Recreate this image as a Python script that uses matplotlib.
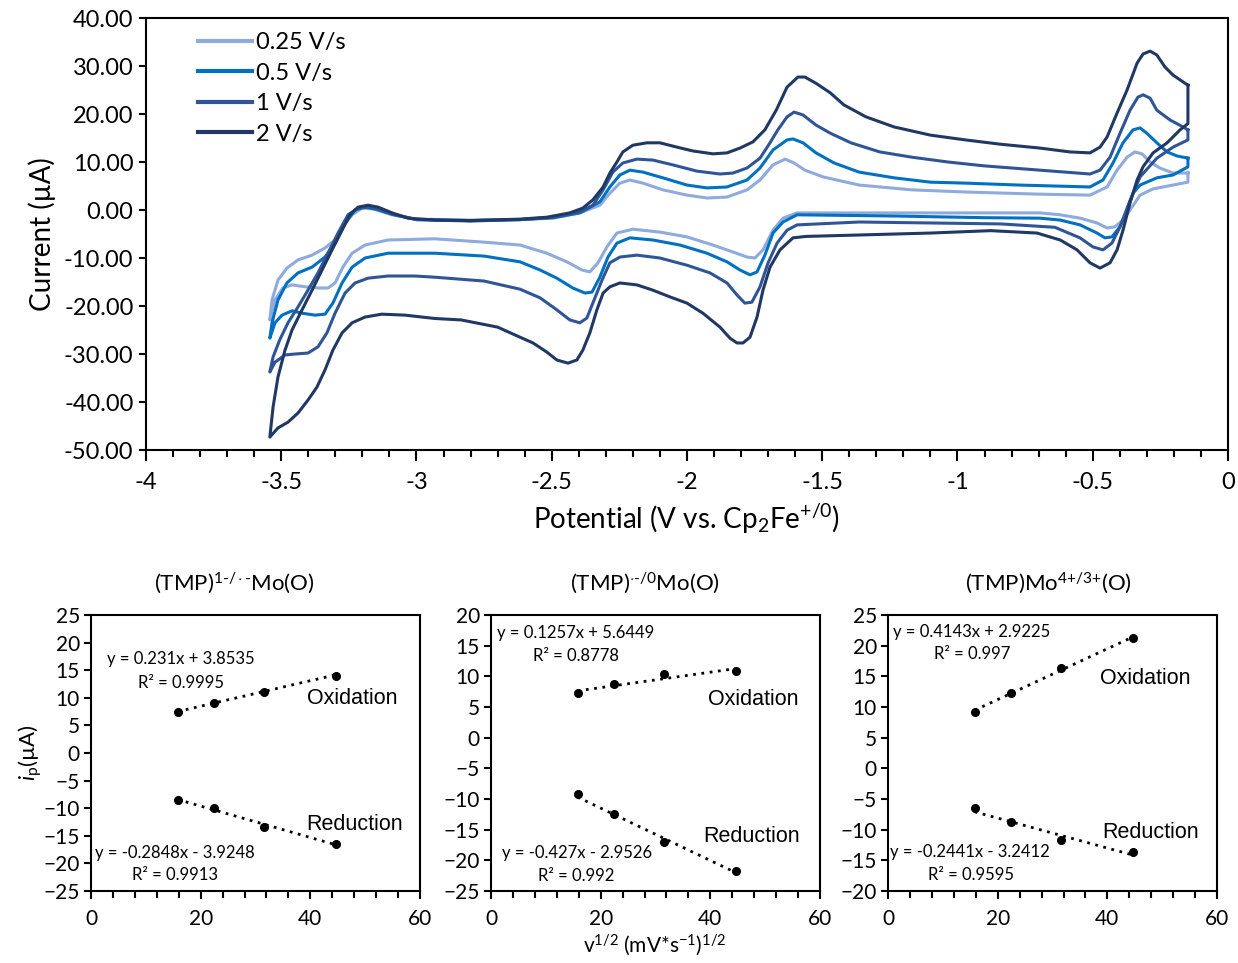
import matplotlib
matplotlib.use('Agg')

import matplotlib.pyplot as plt
from matplotlib.ticker import MultipleLocator, FormatStrFormatter

plt.rcParams['font.family'] = ['Lato', 'DejaVu Sans']
plt.rcParams['mathtext.fontset'] = 'custom'
plt.rcParams['mathtext.rm'] = 'Lato'
plt.rcParams['mathtext.it'] = 'Lato:italic'
plt.rcParams['mathtext.bf'] = 'Lato:bold'

# cyclic voltammograms: potential (V vs Fc) and current (uA), one closed loop per scan rate
# (cathodic sweep right -> left, then anodic sweep back)
cv_025_e = [-0.148, -0.148, -0.203, -0.277, -0.325, -0.355, -0.388, -0.418, -0.447, -0.484, -0.547, -0.62,
            -0.695, -0.9, -1.234, -1.593, -1.645, -1.682, -1.719, -1.749, -1.778, -1.83, -1.904, -2.0,
            -2.1, -2.2, -2.259, -2.296, -2.329, -2.359, -2.388, -2.444, -2.518, -2.617, -2.75, -2.932,
            -3.105, -3.19, -3.238, -3.272, -3.301, -3.327, -3.364, -3.412, -3.46, -3.494, -3.523, -3.542,
            -3.534, -3.512, -3.479, -3.438, -3.386, -3.338, -3.301, -3.272, -3.238, -3.201, -3.16, -3.09,
            -3.0, -2.8, -2.617, -2.495, -2.396, -2.322, -2.285, -2.248, -2.211, -2.163, -2.089, -2.0,
            -1.926, -1.852, -1.778, -1.73, -1.682, -1.637, -1.604, -1.564, -1.497, -1.364, -1.168, -0.97,
            -0.695, -0.51, -0.447, -0.41, -0.373, -0.344, -0.318, -0.288, -0.252, -0.203, -0.148]
cv_025_i = [7.7, 5.8, 5.2, 4.4, 3.1, 0.6, -2.1, -3.5, -3.75, -2.7, -1.7, -1.0,
            -0.6, -0.6, -0.6, -0.6, -1.7, -4.2, -8.3, -10.0, -9.8, -8.75, -7.3, -5.6,
            -4.6, -4.0, -4.8, -7.7, -11.0, -12.9, -12.5, -10.8, -9.0, -7.3, -6.7, -6.0,
            -6.25, -7.3, -9.0, -11.9, -15.2, -16.25, -16.25, -16.0, -15.6, -16.25, -18.75, -22.9,
            -18.75, -14.6, -12.1, -10.4, -9.4, -7.9, -6.25, -3.5, -1.0, 0.4, 0.2, -1.0,
            -1.9, -2.1, -2.0, -1.7, -0.6, 1.0, 3.5, 5.6, 6.25, 5.6, 4.2, 3.1,
            2.5, 2.7, 4.2, 6.25, 9.4, 10.6, 9.8, 8.3, 6.9, 5.2, 4.2, 3.75,
            3.3, 3.1, 4.8, 8.3, 11.0, 12.1, 11.7, 10.0, 8.75, 7.7, 7.7]

cv_05_e = [-0.148, -0.148, -0.203, -0.263, -0.325, -0.351, -0.373, -0.399, -0.429, -0.455, -0.484, -0.547,
           -0.62, -0.695, -0.9, -1.234, -1.593, -1.645, -1.682, -1.712, -1.741, -1.767, -1.804, -1.852,
           -1.926, -2.026, -2.126, -2.211, -2.259, -2.292, -2.322, -2.351, -2.377, -2.422, -2.481, -2.543,
           -2.617, -2.75, -2.932, -3.105, -3.19, -3.238, -3.275, -3.309, -3.338, -3.375, -3.423, -3.46,
           -3.497, -3.523, -3.542,
           -3.534, -3.512, -3.479, -3.438, -3.386, -3.338, -3.301, -3.264, -3.227, -3.19, -3.15, -3.09,
           -3.0, -2.8, -2.617, -2.495, -2.396, -2.322, -2.285, -2.248, -2.211, -2.163, -2.089, -2.0,
           -1.926, -1.852, -1.778, -1.73, -1.682, -1.63, -1.608, -1.571, -1.523, -1.456, -1.364, -1.234,
           -1.1, -0.97, -0.773, -0.51, -0.462, -0.425, -0.388, -0.351, -0.325, -0.3, -0.263, -0.225,
           -0.188, -0.148]
cv_05_i = [10.8, 9.0, 7.3, 6.7, 5.2, 3.5, 0.0, -3.5, -5.6, -5.8, -4.8, -3.1,
           -2.1, -1.7, -1.6, -1.25, -1.0, -2.5, -4.8, -9.4, -12.9, -13.5, -12.5, -10.8,
           -9.0, -7.3, -6.25, -5.8, -6.9, -9.8, -14.0, -17.1, -17.3, -16.25, -14.2, -12.5,
           -10.8, -9.6, -9.0, -9.0, -10.0, -11.9, -15.2, -19.4, -21.7, -21.9, -21.5, -21.0,
           -21.9, -23.5, -26.7,
           -23.5, -18.75, -15.2, -13.1, -11.9, -9.8, -6.9, -2.7, 0.0, 0.6, 0.2, -0.9,
           -2.0, -2.2, -2.0, -1.6, -0.6, 1.7, 4.8, 7.3, 8.3, 7.9, 6.7, 5.2,
           4.6, 4.8, 6.25, 8.75, 12.5, 14.6, 14.8, 14.0, 11.9, 9.8, 7.9, 6.7,
           5.8, 5.6, 5.2, 4.8, 6.25, 9.8, 14.0, 16.7, 17.1, 16.0, 14.0, 12.1,
           11.25, 10.8]

cv_1_e = [-0.148, -0.148, -0.203, -0.263, -0.325, -0.362, -0.399, -0.429, -0.462, -0.499, -0.547, -0.64,
          -0.84, -1.1, -1.364, -1.593, -1.63, -1.667, -1.7, -1.73, -1.76, -1.786, -1.815, -1.852,
          -1.915, -2.0, -2.1, -2.185, -2.248, -2.285, -2.314, -2.348, -2.37, -2.396, -2.433, -2.481,
          -2.543, -2.617, -2.75, -2.932, -3.006, -3.105, -3.179, -3.227, -3.264, -3.301, -3.331, -3.364,
          -3.401, -3.449, -3.486, -3.523, -3.542,
          -3.53, -3.505, -3.475, -3.438, -3.401, -3.364, -3.327, -3.29, -3.253, -3.216, -3.179, -3.142,
          -3.09, -3.0, -2.8, -2.617, -2.495, -2.396, -2.348, -2.31, -2.274, -2.237, -2.185, -2.126,
          -2.052, -1.963, -1.878, -1.83, -1.778, -1.73, -1.693, -1.664, -1.63, -1.604, -1.571, -1.523,
          -1.47, -1.394, -1.287, -1.168, -1.035, -0.902, -0.695, -0.51, -0.473, -0.436, -0.399, -0.362,
          -0.333, -0.314, -0.288, -0.263, -0.214, -0.166, -0.148]
cv_1_i = [16.7, 14.6, 13.1, 10.8, 6.9, 2.0, -3.5, -6.9, -8.3, -7.7, -5.8, -3.6,
          -2.9, -2.7, -2.5, -3.1, -4.2, -6.9, -11.0, -16.0, -19.2, -19.4, -17.7, -15.2,
          -13.1, -11.5, -10.0, -9.4, -9.8, -11.0, -14.6, -19.4, -22.5, -23.5, -22.9, -20.8,
          -18.3, -16.5, -14.8, -14.0, -13.75, -13.75, -14.2, -15.2, -17.3, -21.5, -25.6, -28.5,
          -29.8, -30.0, -30.2, -31.7, -33.75,
          -30.6, -27.0, -23.5, -20.2, -16.7, -13.1, -9.0, -4.8, -1.0, 0.4, 0.6, 0.2,
          -0.8, -2.0, -2.3, -2.0, -1.5, -0.4, 1.0, 4.2, 7.9, 9.8, 10.6, 10.4,
          9.4, 8.1, 7.5, 7.7, 8.75, 10.8, 14.0, 16.7, 19.4, 20.4, 19.8, 17.7,
          16.0, 14.0, 12.1, 11.0, 10.0, 9.2, 8.3, 7.5, 8.3, 11.0, 16.0, 20.8,
          23.5, 24.0, 23.3, 20.8, 18.75, 17.3, 16.7]

cv_2_e = [-0.148, -0.148, -0.177, -0.225, -0.277, -0.314, -0.336, -0.362, -0.388, -0.41, -0.436, -0.473,
          -0.51, -0.558, -0.62, -0.706, -0.877, -1.1, -1.36, -1.56, -1.608, -1.656, -1.693, -1.719,
          -1.741, -1.767, -1.793, -1.815, -1.841, -1.878, -1.941, -2.0, -2.063, -2.126, -2.185, -2.248,
          -2.285, -2.31, -2.333, -2.359, -2.385, -2.407, -2.44, -2.481, -2.518, -2.569, -2.617, -2.7,
          -2.835, -2.932, -3.043, -3.128, -3.19, -3.238, -3.275, -3.309, -3.338, -3.368, -3.401, -3.438,
          -3.475, -3.512, -3.542,
          -3.53, -3.512, -3.486, -3.46, -3.423, -3.386, -3.349, -3.312, -3.275, -3.246, -3.216, -3.179,
          -3.142, -3.09, -3.031, -2.932, -2.8, -2.617, -2.518, -2.433, -2.385, -2.348, -2.31, -2.285,
          -2.259, -2.237, -2.2, -2.148, -2.1, -2.037, -1.978, -1.904, -1.852, -1.804, -1.756, -1.712,
          -1.67, -1.63, -1.59, -1.564, -1.523, -1.47, -1.42, -1.338, -1.234, -1.1, -0.97, -0.84,
          -0.695, -0.584, -0.51, -0.473, -0.447, -0.41, -0.373, -0.336, -0.314, -0.288, -0.263, -0.233,
          -0.203, -0.148]
cv_2_i = [26.0, 18.0, 16.7, 14.0, 11.9, 9.0, 6.25, 1.5, -4.2, -8.3, -11.0, -12.1,
          -11.0, -8.3, -6.25, -4.8, -4.3, -4.8, -5.2, -5.5, -5.8, -8.3, -11.9, -16.7,
          -22.3, -26.5, -27.7, -27.7, -26.7, -24.4, -21.5, -19.4, -18.1, -16.7, -15.6, -15.2,
          -16.0, -17.3, -20.8, -25.6, -29.2, -31.25, -31.9, -31.25, -29.6, -27.7, -26.5, -24.4,
          -22.9, -22.6, -21.9, -21.7, -22.3, -23.5, -25.6, -29.2, -33.3, -36.9, -39.6, -42.3,
          -44.2, -45.4, -47.3,
          -41.0, -34.8, -29.2, -25.0, -20.8, -16.7, -12.5, -8.3, -4.2, -1.0, 0.6, 1.0,
          0.6, -0.6, -1.7, -2.1, -2.2, -1.9, -1.5, -0.6, 0.4, 2.1, 4.8, 7.7,
          10.0, 12.1, 13.5, 14.0, 14.0, 13.1, 12.3, 11.7, 11.9, 12.9, 14.2, 16.7,
          20.8, 25.6, 27.7, 27.7, 26.4, 24.4, 21.9, 19.4, 17.3, 15.6, 14.6, 13.7,
          12.9, 12.1, 11.9, 13.1, 15.2, 20.2, 25.0, 30.6, 32.5, 33.1, 32.3, 29.8,
          28.1, 26.0]

scan_labels = ['0.25 V/s', '0.5 V/s', '1 V/s', '2 V/s']
scan_colors = ['#8faadc', '#0070c0', '#2f5597', '#203864']

# peak current vs square root of scan rate
sqrt_v = [15.8, 22.4, 31.6, 44.7]
titles = [u'(TMP)$^{1\u2010/\\cdot\u2010}$Mo(O)', u'(TMP)$^{\\cdot\u2010/0}$Mo(O)',
          u'(TMP)Mo$^{4{+}/3{+}}$(O)']
ox_peaks = [[7.4, 9.0, 11.1, 14.0], [7.2, 8.8, 10.3, 10.9], [9.1, 12.3, 16.3, 21.3]]
red_peaks = [[-8.5, -10.0, -13.5, -16.5], [-9.2, -12.5, -17.0, -21.7], [-6.5, -8.8, -11.7, -13.7]]
ox_fit = [(0.231, 3.8535, 0.9995), (0.1257, 5.6449, 0.8778), (0.4143, 2.9225, 0.997)]
red_fit = [(-0.2848, -3.9248, 0.9913), (-0.427, -2.9526, 0.992), (-0.2441, -3.2412, 0.9595)]
ylims = [(-25, 25), (-25, 20), (-20, 25)]

fig = plt.figure(figsize=(12.38, 9.63), dpi=100)

# ---- top: CV traces ----
ax = fig.add_axes([0.1179, 0.5327, 0.874, 0.4486])
for e, i, lab, c in zip([cv_025_e, cv_05_e, cv_1_e, cv_2_e],
                        [cv_025_i, cv_05_i, cv_1_i, cv_2_i],
                        scan_labels, scan_colors):
    ax.plot(e, i, color=c, lw=2.2, label=lab, solid_joinstyle='round')

ax.set_xlim(-4, 0)
ax.set_ylim(-50, 40)
ax.xaxis.set_major_locator(MultipleLocator(0.5))
ax.xaxis.set_minor_locator(MultipleLocator(0.1))
ax.yaxis.set_major_locator(MultipleLocator(10))
ax.yaxis.set_major_formatter(FormatStrFormatter('%.2f'))
ax.xaxis.set_major_formatter(FormatStrFormatter('%g'))
ax.tick_params(axis='x', which='major', direction='out', length=8, width=1.5, labelsize=17, pad=8)
ax.tick_params(axis='x', which='minor', direction='out', length=5, width=1.5)
ax.tick_params(axis='y', which='major', direction='out', length=5, width=1.5, labelsize=17, pad=4)
for s in ax.spines.values():
    s.set_linewidth(1.5)
ax.set_xlabel(r'Potential (V vs. Cp$_2$Fe$^{+/0}$)', fontsize=20, labelpad=6)
ax.set_ylabel(u'Current (\u00b5A)', fontsize=20, labelpad=6)
leg = ax.legend(loc='upper left', bbox_to_anchor=(0.035, 1.0), frameon=False, fontsize=17,
                handlelength=2.3, handletextpad=0.15, labelspacing=0.4, borderaxespad=0.2)
for h in leg.get_lines():
    h.set_linewidth(3)

# ---- bottom: peak current panels ----
lefts = [0.0735, 0.3966, 0.7173]
title_x = [234, 645, 1048]
ox_txt = [(39.4, 9.8), (39.6, 6.2), (38.7, 14.7)]
red_txt = [(39.2, -12.9), (38.7, -16.1), (39.0, -10.5)]
ox_eq = [((2.9, 17.0), (8.6, 12.7)), ((1.1, 17.1), (7.7, 13.3)), ((0.9, 22.2), (8.4, 18.6))]
red_eq = [((0.7, -18.1), (7.5, -22.1)), ((2.0, -18.8), (8.6, -22.6)), ((0.4, -13.6), (7.3, -17.4))]

for k in range(3):
    bx = fig.add_axes([lefts[k], 0.0748, 0.2658, 0.2866])
    for pts, fit in [(ox_peaks[k], ox_fit[k]), (red_peaks[k], red_fit[k])]:
        m, b, r2 = fit
        xs = [sqrt_v[0], sqrt_v[-1]]
        bx.plot(xs, [m * x + b for x in xs], ls=(0, (1, 2)), color='black', lw=2)
        bx.plot(sqrt_v, pts, 'o', color='black', ms=5.5)
    bx.set_xlim(0, 60)
    bx.set_ylim(*ylims[k])
    bx.xaxis.set_major_locator(MultipleLocator(20))
    bx.xaxis.set_minor_locator(MultipleLocator(4))
    bx.yaxis.set_major_locator(MultipleLocator(5))
    bx.tick_params(axis='x', which='major', direction='out', length=6, width=1.5, labelsize=15, pad=7)
    bx.tick_params(axis='x', which='minor', direction='out', length=5, width=1.5)
    bx.tick_params(axis='y', which='major', direction='out', length=5, width=1.5, labelsize=15, pad=3)
    for s in bx.spines.values():
        s.set_linewidth(1.5)

    m, b, r2 = ox_fit[k]
    (ex, ey), (rx, ry) = ox_eq[k]
    bx.text(ex, ey, 'y = %gx + %g' % (m, b), fontsize=12, va='center', ha='left')
    bx.text(rx, ry, u'R\u00b2 = %g' % r2, fontsize=12, va='center', ha='left')
    m, b, r2 = red_fit[k]
    (ex, ey), (rx, ry) = red_eq[k]
    bx.text(ex, ey, 'y = %gx - %g' % (m, -b), fontsize=12, va='center', ha='left')
    bx.text(rx, ry, u'R\u00b2 = %g' % r2, fontsize=12, va='center', ha='left')
    bx.text(ox_txt[k][0], ox_txt[k][1], 'Oxidation', fontsize=15.5, family='Liberation Sans',
            va='center', ha='left')
    bx.text(red_txt[k][0], red_txt[k][1], 'Reduction', fontsize=15.5, family='Liberation Sans',
            va='center', ha='left')

    fig.text(title_x[k] / 1238, 1 - 583 / 963, titles[k], fontsize=16, ha='center', va='center')

fig.text(30 / 1238, 1 - 753 / 963, u'$i_\\mathrm{p}$(\u00b5A)', fontsize=16, rotation=90,
         ha='center', va='center')
fig.text(655 / 1238, 1 - 945 / 963, r'v$^{1/2}$ (mV*s$^{-1}$)$^{1/2}$', fontsize=15,
         ha='center', va='center')

fig.savefig('out.png', dpi=100)
